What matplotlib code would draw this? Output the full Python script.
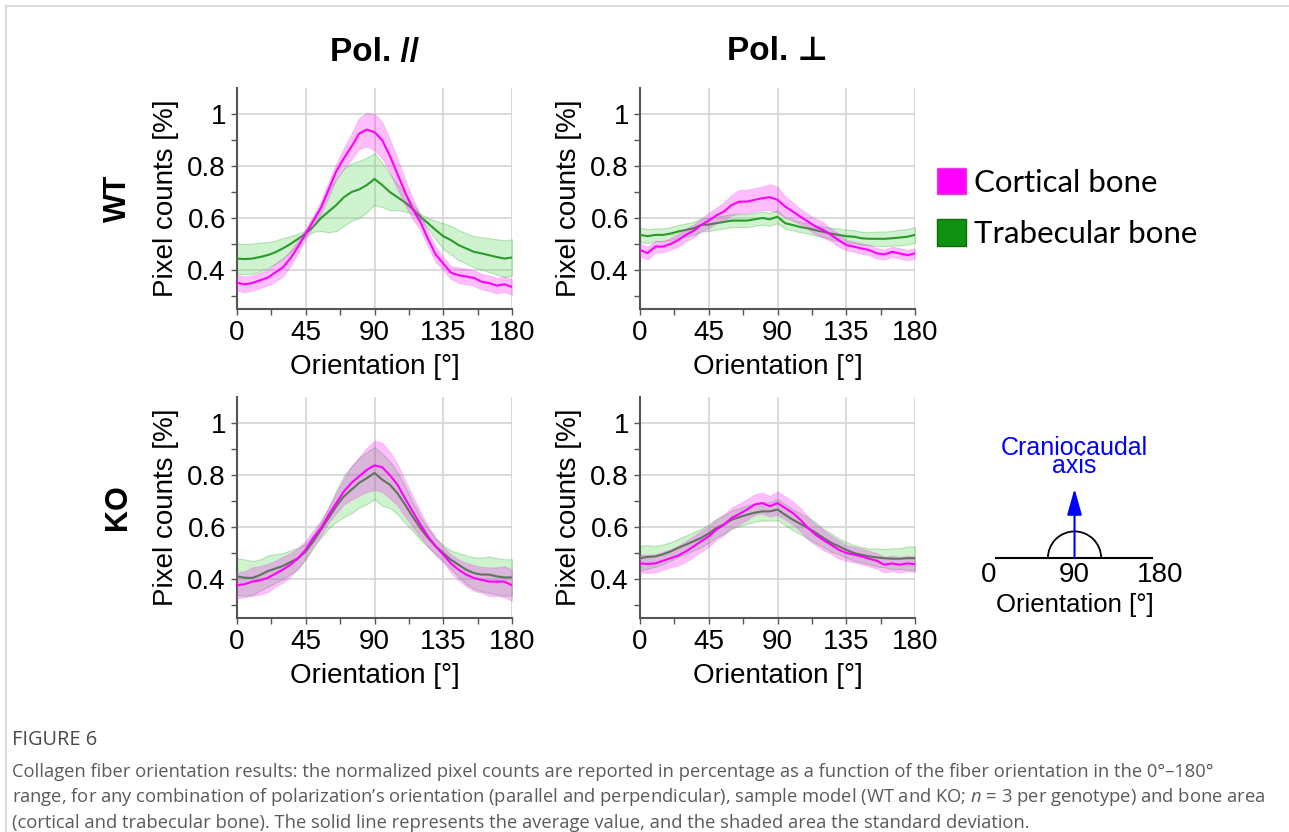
import numpy as np
import matplotlib
matplotlib.use("Agg")
import matplotlib.pyplot as plt
from matplotlib.patches import Patch, Arc
from matplotlib.lines import Line2D

plt.rcParams['font.family'] = ['Liberation Sans', 'DejaVu Sans']
plt.rcParams['mathtext.fontset'] = 'custom'
plt.rcParams['mathtext.it'] = 'Open Sans:italic'
plt.rcParams['mathtext.rm'] = 'Open Sans'

# orientation grid (degrees)
orientation = np.arange(0, 181, 5)

# WT, Pol //
wt_par_cort = [0.351, 0.345, 0.35, 0.36, 0.37, 0.39, 0.41, 0.445, 0.49, 0.54, 0.59, 0.64, 0.71,
               0.78, 0.83, 0.875, 0.925, 0.94, 0.93, 0.90, 0.84, 0.77, 0.70, 0.635, 0.585, 0.52,
               0.46, 0.425, 0.39, 0.38, 0.375, 0.37, 0.355, 0.35, 0.34, 0.345, 0.335]
wt_par_cort_sd = [0.03, 0.03, 0.03, 0.03, 0.03, 0.035, 0.035, 0.03, 0.025, 0.02, 0.02, 0.025, 0.03,
                  0.03, 0.04, 0.05, 0.06, 0.065, 0.07, 0.07, 0.065, 0.06, 0.05, 0.04, 0.03, 0.03,
                  0.03, 0.025, 0.025, 0.03, 0.03, 0.03, 0.03, 0.03, 0.03, 0.03, 0.03]
wt_par_trab = [0.444, 0.442, 0.444, 0.45, 0.457, 0.468, 0.483, 0.50, 0.52, 0.54, 0.567, 0.60, 0.625,
               0.65, 0.68, 0.70, 0.71, 0.727, 0.75, 0.727, 0.70, 0.68, 0.66, 0.635, 0.605, 0.58,
               0.554, 0.53, 0.515, 0.496, 0.483, 0.47, 0.464, 0.457, 0.45, 0.444, 0.448]
wt_par_trab_sd = [0.058, 0.058, 0.058, 0.055, 0.05, 0.045, 0.04, 0.03, 0.02, 0.012, 0.02, 0.05, 0.08,
                  0.1, 0.11, 0.11, 0.11, 0.105, 0.1, 0.085, 0.07, 0.05, 0.035, 0.02, 0.01, 0.02,
                  0.035, 0.05, 0.055, 0.058, 0.058, 0.06, 0.062, 0.065, 0.068, 0.07, 0.07]

# WT, Pol perpendicular
wt_perp_cort = [0.477, 0.465, 0.49, 0.49, 0.50, 0.515, 0.535, 0.55, 0.573, 0.59, 0.61, 0.625, 0.65,
                0.663, 0.663, 0.67, 0.676, 0.68, 0.67, 0.644, 0.625, 0.605, 0.586, 0.567, 0.554, 0.535,
                0.515, 0.496, 0.49, 0.483, 0.477, 0.464, 0.46, 0.47, 0.464, 0.457, 0.464]
wt_perp_cort_sd = [0.025, 0.025, 0.022, 0.022, 0.022, 0.025, 0.025, 0.025, 0.025, 0.03, 0.03, 0.035, 0.04,
                   0.045, 0.045, 0.045, 0.045, 0.05, 0.05, 0.04, 0.035, 0.03, 0.03, 0.03, 0.03, 0.025,
                   0.025, 0.02, 0.02, 0.02, 0.02, 0.02, 0.02, 0.02, 0.02, 0.02, 0.02]
wt_perp_trab = [0.535, 0.53, 0.535, 0.535, 0.54, 0.548, 0.554, 0.56, 0.573, 0.575, 0.58, 0.585, 0.59,
                0.59, 0.59, 0.595, 0.60, 0.595, 0.605, 0.58, 0.573, 0.565, 0.56, 0.553, 0.547, 0.54,
                0.535, 0.53, 0.528, 0.522, 0.52, 0.52, 0.52, 0.522, 0.525, 0.528, 0.535]
wt_perp_trab_sd = [0.028, 0.027, 0.025, 0.025, 0.025, 0.025, 0.025, 0.025, 0.025, 0.025, 0.025, 0.025, 0.025,
                   0.025, 0.025, 0.025, 0.025, 0.025, 0.025, 0.022, 0.02, 0.02, 0.02, 0.02, 0.02, 0.022,
                   0.025, 0.025, 0.025, 0.025, 0.025, 0.028, 0.028, 0.028, 0.03, 0.03, 0.03]

# KO, Pol //
ko_par_cort = [0.376, 0.38, 0.39, 0.395, 0.404, 0.42, 0.436, 0.455, 0.48, 0.513, 0.558, 0.596, 0.647,
               0.692, 0.737, 0.77, 0.795, 0.82, 0.837, 0.83, 0.80, 0.763, 0.71, 0.66, 0.61, 0.564,
               0.526, 0.494, 0.46, 0.436, 0.417, 0.404, 0.397, 0.39, 0.39, 0.39, 0.376]
ko_par_cort_sd = [0.05, 0.05, 0.055, 0.055, 0.055, 0.05, 0.05, 0.045, 0.04, 0.035, 0.03, 0.03, 0.03,
                  0.04, 0.05, 0.065, 0.075, 0.085, 0.095, 0.095, 0.09, 0.08, 0.07, 0.06, 0.05, 0.04,
                  0.035, 0.03, 0.035, 0.04, 0.045, 0.05, 0.05, 0.055, 0.055, 0.06, 0.06]
ko_par_trab = [0.41, 0.405, 0.404, 0.415, 0.43, 0.44, 0.45, 0.465, 0.48, 0.506, 0.545, 0.59, 0.635,
               0.68, 0.718, 0.744, 0.77, 0.788, 0.808, 0.782, 0.763, 0.73, 0.686, 0.64, 0.596, 0.558,
               0.526, 0.50, 0.474, 0.455, 0.436, 0.423, 0.417, 0.417, 0.41, 0.406, 0.406]
ko_par_trab_sd = [0.07, 0.07, 0.065, 0.06, 0.06, 0.055, 0.05, 0.045, 0.04, 0.03, 0.025, 0.03, 0.04,
                  0.06, 0.08, 0.09, 0.095, 0.1, 0.1, 0.1, 0.09, 0.08, 0.07, 0.055, 0.045, 0.035,
                  0.03, 0.03, 0.035, 0.045, 0.055, 0.06, 0.065, 0.07, 0.07, 0.07, 0.07]

# KO, Pol perpendicular
ko_perp_cort = [0.46, 0.458, 0.46, 0.47, 0.48, 0.49, 0.506, 0.525, 0.545, 0.564, 0.59, 0.609, 0.635,
                0.65, 0.667, 0.686, 0.692, 0.68, 0.692, 0.673, 0.654, 0.628, 0.596, 0.57, 0.55, 0.532,
                0.513, 0.50, 0.494, 0.487, 0.478, 0.47, 0.455, 0.46, 0.455, 0.46, 0.457]
ko_perp_cort_sd = [0.035, 0.035, 0.035, 0.035, 0.035, 0.038, 0.04, 0.04, 0.04, 0.04, 0.04, 0.04, 0.04,
                   0.04, 0.04, 0.04, 0.04, 0.04, 0.045, 0.045, 0.045, 0.045, 0.045, 0.04, 0.04, 0.035,
                   0.035, 0.03, 0.03, 0.03, 0.03, 0.03, 0.03, 0.03, 0.03, 0.03, 0.03]
ko_perp_trab = [0.48, 0.485, 0.487, 0.495, 0.506, 0.52, 0.532, 0.545, 0.558, 0.575, 0.596, 0.61, 0.628,
                0.638, 0.647, 0.655, 0.66, 0.66, 0.667, 0.647, 0.628, 0.612, 0.596, 0.578, 0.558, 0.54,
                0.526, 0.512, 0.50, 0.493, 0.487, 0.483, 0.48, 0.478, 0.478, 0.48, 0.48]
ko_perp_trab_sd = [0.048, 0.045, 0.04, 0.038, 0.035, 0.035, 0.035, 0.035, 0.035, 0.035, 0.035, 0.035, 0.035,
                   0.035, 0.035, 0.035, 0.035, 0.035, 0.04, 0.04, 0.04, 0.04, 0.04, 0.04, 0.035, 0.035,
                   0.03, 0.03, 0.03, 0.03, 0.03, 0.035, 0.035, 0.04, 0.04, 0.045, 0.045]

panels = [
    (wt_par_cort, wt_par_cort_sd, wt_par_trab, wt_par_trab_sd),
    (wt_perp_cort, wt_perp_cort_sd, wt_perp_trab, wt_perp_trab_sd),
    (ko_par_cort, ko_par_cort_sd, ko_par_trab, ko_par_trab_sd),
    (ko_perp_cort, ko_perp_cort_sd, ko_perp_trab, ko_perp_trab_sd),
]
col_titles = ["Pol. //", "Pol. \u22a5"]
row_labels = ["WT", "KO"]
legend_labels = ["Cortical bone", "Trabecular bone"]

mag_line = "#ff00ff"
mag_fill = "#ff00ff"
grn_line = "#2a9a2a"
grn_fill = "#5ed85e"

W, H = 1289, 832
fig = plt.figure(figsize=(W / 100, H / 100), dpi=100)

# axes boxes in pixels: left, top
lefts = [237, 640]
tops = [88, 397]
ax_w, ax_h = 275, 221

axes = []
for r in range(2):
    for c in range(2):
        ax = fig.add_axes([lefts[c] / W, 1 - (tops[r] + ax_h) / H, ax_w / W, ax_h / H])
        axes.append(ax)

for ax, (cort, cort_sd, trab, trab_sd) in zip(axes, panels):
    cort = np.array(cort); cort_sd = np.array(cort_sd)
    trab = np.array(trab); trab_sd = np.array(trab_sd)
    ax.fill_between(orientation, trab - trab_sd, trab + trab_sd, facecolor=grn_fill, alpha=0.3,
                    edgecolor="#3aa83a", linewidth=0.8, zorder=2)
    ax.plot(orientation, trab, color=grn_line, lw=1.5, zorder=3)
    ax.fill_between(orientation, cort - cort_sd, cort + cort_sd, facecolor=mag_fill, alpha=0.25,
                    edgecolor="#e060e0", linewidth=0.8, zorder=4)
    ax.plot(orientation, cort, color=mag_line, lw=1.5, zorder=5)

    ax.set_xlim(0, 180)
    ax.set_ylim(0.25, 1.1)
    ax.set_xticks([0, 45, 90, 135, 180])
    ax.set_xticks([22.5, 67.5, 112.5, 157.5], minor=True)
    ax.set_yticks([0.4, 0.6, 0.8, 1.0])
    ax.set_yticklabels(["0.4", "0.6", "0.8", "1"])
    ax.set_yticks([0.3, 0.5, 0.7, 0.9], minor=True)
    ax.grid(True, which="major", color="#d4d4d4", lw=1.2, zorder=0)
    ax.set_axisbelow(True)
    for s in ["top", "right"]:
        ax.spines[s].set_visible(False)
    for s in ["left", "bottom"]:
        ax.spines[s].set_color("#555555")
        ax.spines[s].set_linewidth(1.5)
    ax.tick_params(which="both", direction="out", length=4, width=1, color="#555555",
                   labelsize=20, pad=4)
    ax.set_xlabel("Orientation [\u00b0]", fontsize=20, labelpad=6)
    ax.set_ylabel("Pixel counts [%]", fontsize=20, labelpad=6)

# column titles and row labels
for c, t in enumerate(col_titles):
    fig.text((lefts[c] + ax_w / 2) / W, 1 - 52 / H, t, fontsize=24, fontweight="bold",
             ha="center", va="center")
for r, t in enumerate(row_labels):
    fig.text(118 / W, 1 - (tops[r] + ax_h / 2) / H, t, fontsize=22, fontweight="bold",
             rotation=90, ha="center", va="center")

# legend
handles = [Patch(facecolor="#ff00ff", edgecolor="#e040e0"),
           Patch(facecolor="#119111", edgecolor="#0b700b")]
fig.legend(handles, legend_labels, loc="upper left", bbox_to_anchor=(915 / W, 1 - 146 / H),
           frameon=False, prop={"family": "Lato", "size": 22.5}, handlelength=0.93,
           handleheight=0.93, handletextpad=0.26, labelspacing=0.72, borderpad=0.2)

# orientation schematic
sch = fig.add_axes([950 / W, 1 - 640 / H, 250 / W, 220 / H])
sch.set_xlim(-41, 222)
sch.set_ylim(-86.3, 145.3)
sch.axis("off")
sch.plot([7.4, 171.6], [0, 0], color="black", lw=1.5)
sch.add_patch(Arc((90, 0), 56, 56, theta1=0, theta2=180, color="black", lw=1.3))
sch.annotate("", xy=(90, 73), xytext=(90, 0),
             arrowprops=dict(arrowstyle="-|>,head_length=1.6,head_width=0.45", color="#0000ff",
                             lw=1.5, shrinkA=0, shrinkB=0))
sch.text(90, 84, "Craniocaudal\naxis", color="#0000ff", fontsize=18, ha="center", va="bottom",
         linespacing=0.72)
for v in [0, 90, 180]:
    sch.text(v, -18, str(v), fontsize=20, ha="center", va="center")
sch.text(90, -49, "Orientation [\u00b0]", fontsize=18.5, ha="center", va="center")

# outer border
fig.add_artist(Line2D([6 / W, 6 / W], [0, 1 - 6 / H], color="#d3d3d3", lw=1.2))
fig.add_artist(Line2D([6 / W, 1], [1 - 6 / H, 1 - 6 / H], color="#d3d3d3", lw=1.2))

# caption
cap_font = "Open Sans"
fig.text(12 / W, 1 - 740 / H, "FIGURE 6", fontsize=14.4, color="#4a4a4a", family=cap_font,
         ha="left", va="center")
lines = [
    "Collagen fiber orientation results: the normalized pixel counts are reported in percentage as a function of the fiber orientation in the 0\u00b0\u2013180\u00b0",
    "range, for any combination of polarization\u2019s orientation (parallel and perpendicular), sample model (WT and KO; $n$ = 3 per genotype) and bone area",
    "(cortical and trabecular bone). The solid line represents the average value, and the shaded area the standard deviation.",
]
for i, ln in enumerate(lines):
    fig.text(12 / W, 1 - (772 + 25.5 * i) / H, ln, fontsize=13.2, color="#5a5a5a", family=cap_font,
             ha="left", va="center")

plt.savefig("out.png", dpi=100)
